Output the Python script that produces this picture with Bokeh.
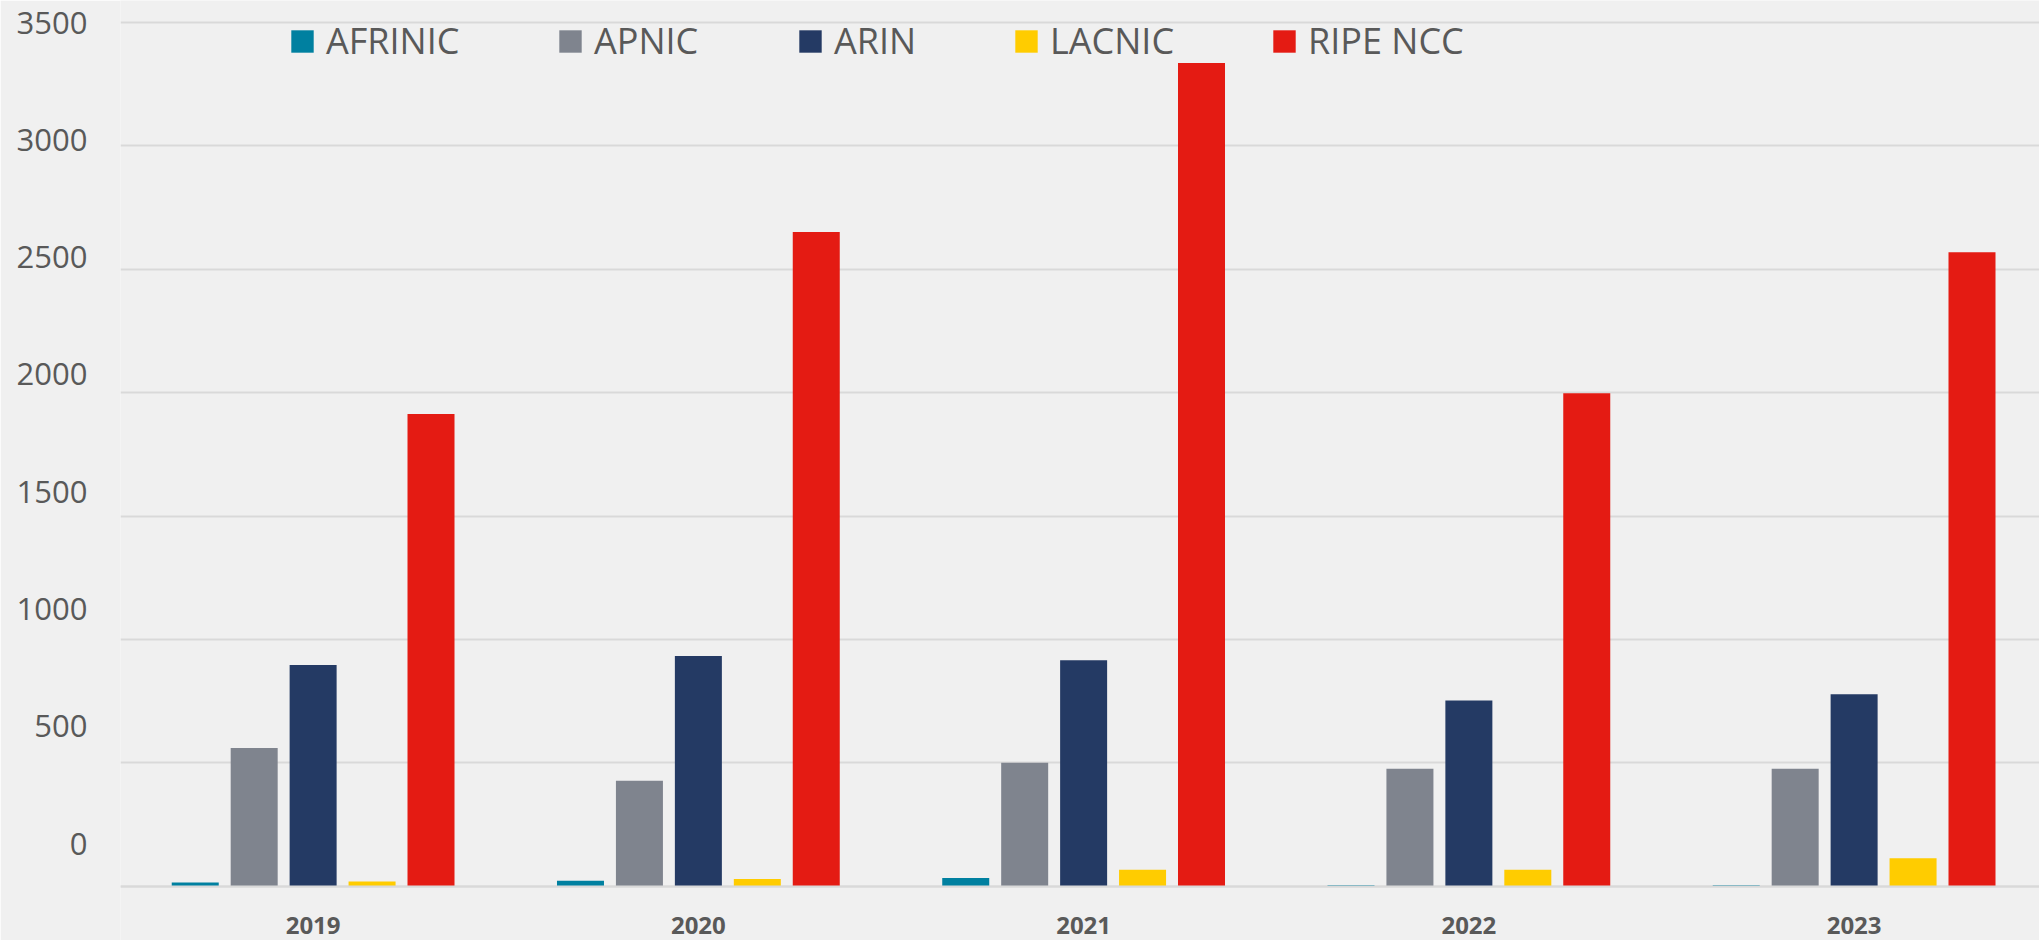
from bokeh.plotting import figure
from bokeh.models import (Range1d, LinearAxis, FixedTicker, Grid, Legend,
                          LegendItem, ColumnDataSource)
from bokeh.transform import dodge
from bokeh.embed import file_html
from bokeh.resources import INLINE

# ---- data ----
years = [2019, 2020, 2021, 2022, 2023]
registries = ["AFRINIC", "APNIC", "ARIN", "LACNIC", "RIPE NCC"]
afrinic = [15, 22, 33, 4, 4]
apnic = [560, 427, 500, 476, 476]
arin = [896, 933, 916, 753, 778]
lacnic = [19, 29, 67, 67, 113]
ripe_ncc = [1914, 2651, 3336, 1998, 2569]
y_ticks = [0, 500, 1000, 1500, 2000, 2500, 3000, 3500]

# ---- styles ----
colors = ["#0080A0", "#7F848E", "#243A64", "#FFCC00", "#E41B13"]
offsets = [-0.306, -0.153, 0.0, 0.153, 0.306]
legend_x = [168, 436, 676, 892, 1150]
BG = "#f0f0f0"
TXT = "#595959"
GRID = "#d9d9d9"
FONT = "Open Sans"

src = ColumnDataSource(dict(year=years, afrinic=afrinic, apnic=apnic,
                            arin=arin, lacnic=lacnic, ripe=ripe_ncc))
keys = ["afrinic", "apnic", "arin", "lacnic", "ripe"]

p = figure(width=2039, height=940,
           x_range=Range1d(2018.5, 2023.4812),
           y_range=Range1d(-220.0, 3589.2),
           output_backend="svg", toolbar_location=None,
           x_axis_location=None, y_axis_location=None,
           min_border_left=120, min_border_right=0,
           min_border_top=0, min_border_bottom=0)
p.outline_line_color = None
p.background_fill_color = BG
p.border_fill_color = BG
# drop default grids
p.center = [r for r in p.center if not isinstance(r, Grid)]

p.add_layout(Grid(dimension=1, ticker=FixedTicker(ticks=y_ticks),
                  grid_line_color=GRID, grid_line_width=2))

renderers = []
for key, col, off in zip(keys, colors, offsets):
    r = p.vbar(x=dodge("year", off), top=key, bottom=0, width=0.122,
               source=src, fill_color=col, line_color=None)
    renderers.append(r)

# x axis fixed at zero
xaxis = LinearAxis(fixed_location=0, ticker=FixedTicker(ticks=years),
                   axis_line_color=GRID, axis_line_width=2,
                   major_tick_line_color=None, minor_tick_line_color=None,
                   major_label_text_font=FONT,
                   major_label_text_font_style="bold",
                   major_label_text_font_size="24px",
                   major_label_text_color=TXT,
                   major_label_standoff=25)
p.add_layout(xaxis, "below")

# y labels
p.extra_y_ranges = {"lab": Range1d(-413.5, 3593.8)}
yaxis = LinearAxis(y_range_name="lab", ticker=FixedTicker(ticks=y_ticks),
                   axis_line_color=None, major_tick_line_color=None,
                   minor_tick_line_color=None,
                   major_label_standoff=27,
                   major_label_text_font=FONT,
                   major_label_text_font_size="31px",
                   major_label_text_color=TXT)
p.add_layout(yaxis, "left")

for name, r, lx in zip(registries, renderers, legend_x):
    leg = Legend(items=[LegendItem(label=name, renderers=[r])],
                 location=(lx, 875), orientation="horizontal",
                 glyph_width=28, glyph_height=28, label_standoff=10,
                 padding=0, margin=0, border_line_color=None,
                 background_fill_alpha=0,
                 label_text_font=FONT, label_text_font_size="36px",
                 label_text_color=TXT)
    p.add_layout(leg)

open("out.html", "w").write(file_html(p, INLINE))
